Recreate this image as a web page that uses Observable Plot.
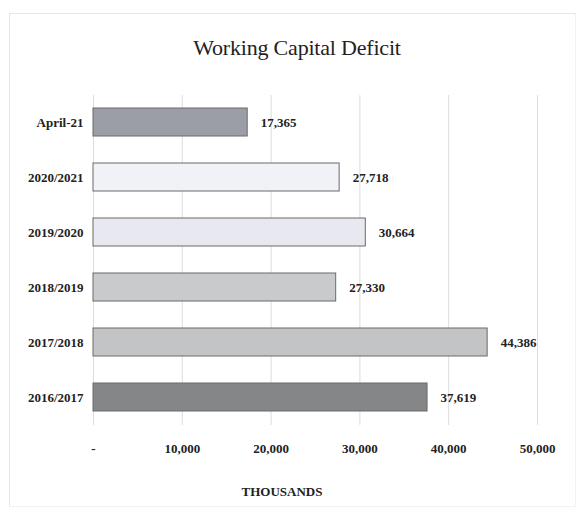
<!DOCTYPE html>
<html>
<head>
<meta charset="utf-8">
<script src="https://cdn.jsdelivr.net/npm/d3@7"></script>
<script src="https://cdn.jsdelivr.net/npm/@observablehq/plot@0.6"></script>
<style>
  html, body { margin: 0; padding: 0; background: #fff; }
  #wrap { position: relative; width: 582px; height: 516px; overflow: hidden; font-family: "Liberation Serif", "DejaVu Serif", serif; }
  #frame { position: absolute; left: 9px; top: 13px; width: 567px; height: 494px; border: 1px solid #e6e6e6; border-right-color: #f2f2f2; border-bottom-color: #f2f2f2; box-sizing: border-box; }
  #title { position: absolute; left: 0; width: 594px; top: 35px; text-align: center; font-size: 22px; color: #222; letter-spacing: -0.2px; }
  #chart { position: absolute; left: 0; top: 90px; }
  #xlabel { position: absolute; left: 0; width: 564px; top: 484px; text-align: center; font-size: 13px; font-weight: bold; color: #222; }
</style>
</head>
<body>
<div id="wrap">
  <div id="frame"></div>
  <div id="title">Working Capital Deficit</div>
  <div id="chart"></div>
  <div id="xlabel">THOUSANDS</div>
</div>
<script>
const categories = ["April-21", "2020/2021", "2019/2020", "2018/2019", "2017/2018", "2016/2017"];
const values = [17365, 27718, 30664, 27330, 44386, 37619];
const fills = ["#9b9fa5", "#f1f2f7", "#e8e8f1", "#c9cacb", "#c3c4c6", "#858688"];
const xTicks = [0, 10000, 20000, 30000, 40000, 50000];

const data = categories.map((c, i) => ({category: c, value: values[i], fill: fills[i]}));
const fmt = d3.format(",");

const chart = Plot.plot({
  width: 582,
  height: 420,
  marginLeft: 93,
  marginRight: 45,
  marginTop: 5,
  marginBottom: 85,
  style: {fontFamily: "'Liberation Serif', 'DejaVu Serif', serif", fontSize: "13px", color: "#222", background: "transparent"},
  x: {domain: [0, 50000], ticks: xTicks, label: null},
  y: {domain: categories, paddingInner: 0.49, paddingOuter: 0.245, label: null},
  marks: [
    Plot.gridX(xTicks, {stroke: "#dcdcdc", strokeOpacity: 1, strokeWidth: 1}),
    Plot.barX(data, {x: "value", y: "category", fill: "fill", stroke: "#6a6a6a", strokeWidth: 1}),
    Plot.text(data, {x: "value", y: "category", text: d => fmt(d.value), textAnchor: "start", dx: 13, fontWeight: "bold", fontSize: 13, fill: "#222"}),
    Plot.axisY({tickSize: 0, tickPadding: 10, fontWeight: "bold", fontSize: 13, label: null}),
    Plot.axisX({ticks: xTicks, tickSize: 0, tickPadding: 18, fontWeight: "bold", fontSize: 13, label: null,
      tickFormat: d => d === 0 ? "-" : fmt(d)})
  ]
});
document.getElementById("chart").appendChild(chart);
</script>
</body>
</html>
